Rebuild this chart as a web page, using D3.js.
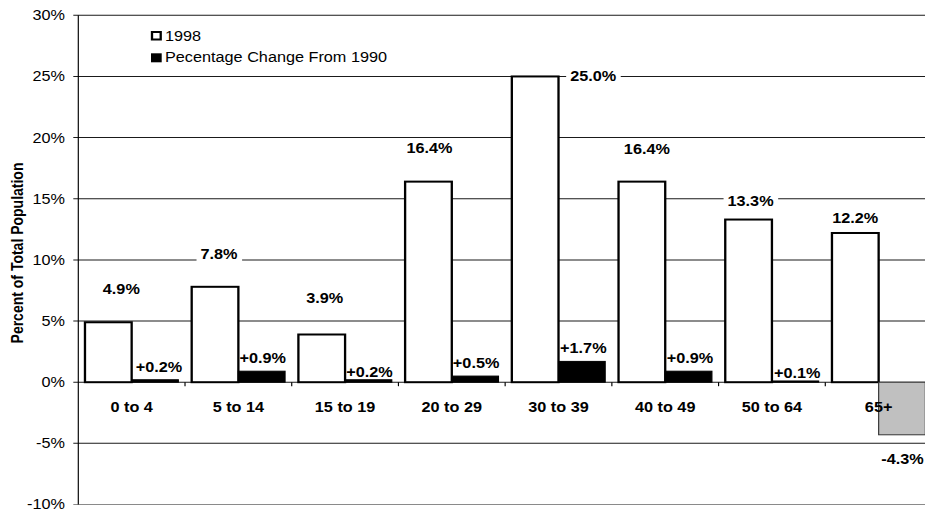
<!DOCTYPE html>
<html>
<head>
<meta charset="utf-8">
<script src="https://cdn.jsdelivr.net/npm/d3@7"></script>
<style>
  body { margin: 0; background: #fff; }
  text { font-family: "Liberation Sans", Arial, sans-serif; font-size: 14px; fill: #000; }
  .bold { font-weight: bold; }
</style>
</head>
<body>
<div id="container"></div>
<script>
// age groups and the two series
var categories = ["0 to 4", "5 to 14", "15 to 19", "20 to 29", "30 to 39", "40 to 49", "50 to 64", "65+"];
var share1998 = [4.9, 7.8, 3.9, 16.4, 25.0, 16.4, 13.3, 12.2];
var change1990 = [0.2, 0.9, 0.2, 0.5, 1.7, 0.9, 0.1, -4.3];
var seriesNames = ["1998", "Pecentage Change From 1990"];
var yTicks = [-10, -5, 0, 5, 10, 15, 20, 25, 30];

// labels were placed by hand in the original, offsets in px from bar end
var shareNudge = [[13, -28], [4, -28], [3, -31], [1, -29], [58, 4.5], [5, -28], [2, -14], [0, -9.5]];
var changeNudge = [[4, -7.5], [1, -8.5], [1, -3], [1, -8.5], [1.5, -8], [1.5, -8.5], [2, -2.5], [0.5, 29]];

var width = 925, height = 513;
var SX = 1.16; // the original picture is stretched sideways

var svg = d3.select("#container").append("svg")
  .attr("width", width)
  .attr("height", height);

var g = svg.append("g").attr("transform", "scale(" + SX + ",1)");

var x0 = d3.scaleBand().domain(categories).range([78.3 / SX, 932 / SX]);
var x1 = d3.scaleBand().domain(["share", "change"]).range([0, x0.bandwidth()]).paddingOuter(0.143);
var y = d3.scaleLinear().domain([-10, 30]).range([504.5, 15.3]);

var left = x0.range()[0], right = x0.range()[1];

// gridlines (with small tick to the left of the axis)
g.selectAll(".grid").data(yTicks).enter().append("line")
  .attr("x1", left - 5 / SX).attr("x2", right)
  .attr("y1", function(d){ return y(d); })
  .attr("y2", function(d){ return y(d); })
  .attr("stroke", function(d){ return d == -10 ? "#8a8a8a" : "#1a1a1a"; })
  .attr("stroke-width", 1);

// y tick labels
g.selectAll(".ylab").data(yTicks).enter().append("text")
  .attr("x", 65 / SX)
  .attr("y", function(d){ return y(d) + 5; })
  .attr("text-anchor", "end")
  .text(function(d){ return d + "%"; });

// axis line
g.append("line")
  .attr("x1", left).attr("x2", left)
  .attr("y1", y(30)).attr("y2", y(-10))
  .attr("stroke", "#000").attr("stroke-width", 1);

// category ticks on the 0% line
g.selectAll(".ctick").data(categories.slice(1)).enter().append("line")
  .attr("x1", function(d){ return x0(d); })
  .attr("x2", function(d){ return x0(d); })
  .attr("y1", y(0)).attr("y2", y(0) + 4)
  .attr("stroke", "#000").attr("stroke-width", 1);

// 1998 bars
g.selectAll(".share").data(share1998).enter().append("rect")
  .attr("x", function(d, i){ return x0(categories[i]) + x1("share"); })
  .attr("y", function(d){ return y(d); })
  .attr("width", x1.bandwidth())
  .attr("height", function(d){ return y(0) - y(d); })
  .attr("fill", "#fff")
  .attr("stroke", "#000")
  .attr("stroke-width", 2);

// change bars, negative ones grey
g.selectAll(".change").data(change1990).enter().append("rect")
  .attr("x", function(d, i){ return x0(categories[i]) + x1("change"); })
  .attr("y", function(d){ return y(Math.max(d, 0)); })
  .attr("width", x1.bandwidth())
  .attr("height", function(d){ return Math.abs(y(0) - y(d)); })
  .attr("fill", function(d){ return d < 0 ? "#c0c0c0" : "#000"; })
  .attr("stroke", function(d){ return d < 0 ? "#333" : "#000"; })
  .attr("stroke-width", 1);

// 1998 labels with white box behind them (they cut the gridlines)
var shareLabels = g.selectAll(".slab").data(share1998).enter().append("g");
shareLabels.append("text")
  .attr("class", "bold")
  .attr("text-anchor", "middle")
  .attr("x", function(d, i){ return x0(categories[i]) + x1("share") + x1.bandwidth() / 2 + shareNudge[i][0] / SX; })
  .attr("y", function(d, i){ return y(d) + shareNudge[i][1]; })
  .text(function(d){ return d.toFixed(1) + "%"; });
shareLabels.each(function(){
  var t = d3.select(this).select("text");
  var b = t.node().getBBox();
  d3.select(this).insert("rect", "text")
    .attr("x", b.x - 4 / SX).attr("y", b.y)
    .attr("width", b.width + 8 / SX).attr("height", b.height)
    .attr("fill", "#fff");
});

// change labels
g.selectAll(".clab").data(change1990).enter().append("text")
  .attr("class", "bold")
  .attr("text-anchor", "middle")
  .attr("x", function(d, i){ return x0(categories[i]) + x1("change") + x1.bandwidth() / 2 + changeNudge[i][0] / SX; })
  .attr("y", function(d, i){ return y(d) + changeNudge[i][1]; })
  .text(function(d){ return (d > 0 ? "+" : "") + d.toFixed(1) + "%"; });

// category labels
g.selectAll(".xlab").data(categories).enter().append("text")
  .attr("class", "bold")
  .attr("text-anchor", "middle")
  .attr("x", function(d){ return x0(d) + x0.bandwidth() / 2; })
  .attr("y", 411.7)
  .text(function(d){ return d; });

// y title
g.append("text")
  .attr("class", "bold")
  .attr("text-anchor", "middle")
  .attr("transform", "translate(" + (23.3 / SX) + ",253) rotate(-90)")
  .text("Percent of Total Population");

// legend
g.append("rect")
  .attr("x", 152 / SX).attr("y", 32)
  .attr("width", 8.7 / SX).attr("height", 7.5)
  .attr("fill", "#fff").attr("stroke", "#000").attr("stroke-width", 2);
g.append("rect")
  .attr("x", 151 / SX).attr("y", 53.3)
  .attr("width", 10.7 / SX).attr("height", 9)
  .attr("fill", "#000");
g.selectAll(".leg").data(seriesNames).enter().append("text")
  .attr("x", 165 / SX)
  .attr("y", function(d, i){ return i == 0 ? 41 : 62.5; })
  .text(function(d){ return d; });
</script>
</body>
</html>
